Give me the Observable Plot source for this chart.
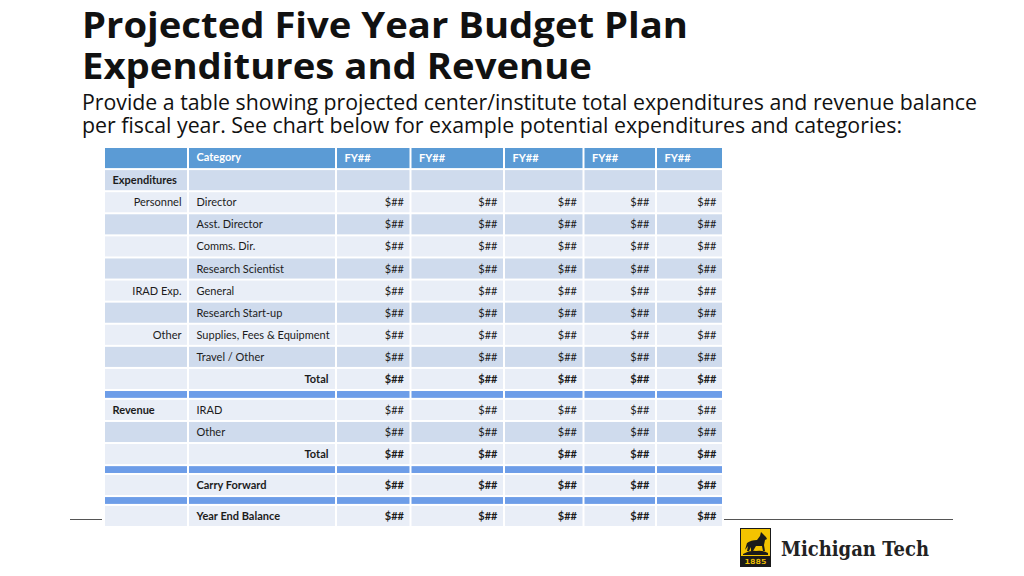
<!DOCTYPE html>
<html>
<head>
<meta charset="utf-8">
<script src="https://cdn.jsdelivr.net/npm/d3@7"></script>
<script src="https://cdn.jsdelivr.net/npm/@observablehq/plot@0.6"></script>
<style>
  html, body { margin: 0; padding: 0; background: #ffffff; }
  body { width: 1024px; height: 576px; position: relative; overflow: hidden; }
  #decor { position: absolute; left: 0; top: 0; }
  #chart { position: absolute; left: 0; top: 145px; }
</style>
</head>
<body>
<svg id="decor" width="1024" height="576" xmlns="http://www.w3.org/2000/svg">
  <g font-family="'Open Sans', sans-serif" fill="#111">
    <text x="82" y="38" font-size="35" font-weight="700" textLength="606" lengthAdjust="spacingAndGlyphs">Projected Five Year Budget Plan</text>
    <text x="82" y="79" font-size="35" font-weight="700" textLength="510" lengthAdjust="spacingAndGlyphs">Expenditures and Revenue</text>
    <text x="82" y="110" font-size="21" font-weight="400" textLength="895" lengthAdjust="spacingAndGlyphs">Provide a table showing projected center/institute total expenditures and revenue balance</text>
    <text x="82" y="133" font-size="21" font-weight="400" textLength="820" lengthAdjust="spacingAndGlyphs">per fiscal year. See chart below for example potential expenditures and categories:</text>
  </g>
  <line x1="70" y1="519.5" x2="102" y2="519.5" stroke="#555" stroke-width="1"/>
  <line x1="724" y1="519.5" x2="953" y2="519.5" stroke="#555" stroke-width="1"/>
  <g transform="translate(740,528)">
    <rect x="0.5" y="0.5" width="30" height="38" fill="#f3c300" stroke="#1a1a1a" stroke-width="1"/>
    <path d="M3,26 Q10,22 16,23 Q23,22 28,25 L28,27 L3,27 Z" fill="#1a1a1a"/>
    <path d="M5,22 L7,15 Q11,12 17,12 L20,8 L21,4 L23,6 L26,9 L27,11 L25,12 L24,17 L25,23 L23,23 L22,18 L16,18 L13,23 L11,23 L11,19 L9,23 L7,23 L8,18 Z" fill="#1a1a1a"/>
    <rect x="1" y="28" width="29" height="10" fill="#1a1a1a"/>
    <text x="15.5" y="36" font-family="'DejaVu Sans Mono', monospace" font-size="7" font-weight="700" fill="#f3c300" text-anchor="middle" textLength="22" lengthAdjust="spacingAndGlyphs">1885</text>
  </g>
  <text x="781" y="556" font-family="'DejaVu Serif', serif" font-size="20" font-weight="700" fill="#222" textLength="148" lengthAdjust="spacingAndGlyphs">Michigan Tech</text>
</svg>
<div id="chart"></div>
<script>
// ---- data ----
const fiscalYears = ["FY##", "FY##", "FY##", "FY##", "FY##"];
const rowKinds = ["header", "section", "item", "item", "item", "item", "item", "item", "item", "item", "total", "band", "section", "item", "total", "band", "summary", "band", "summary"];
const rowGroups = ["", "Expenditures", "Personnel", "", "", "", "IRAD Exp.", "", "Other", "", "", "", "Revenue", "", "", "", "", "", ""];
const rowCategories = ["Category", "", "Director", "Asst. Director", "Comms. Dir.", "Research Scientist", "General", "Research Start-up", "Supplies, Fees & Equipment", "Travel / Other", "Total", "", "IRAD", "Other", "Total", "", "Carry Forward", "", "Year End Balance"];
const V = "$##";
const rowAmounts = [
  fiscalYears,
  [],
  [V, V, V, V, V],
  [V, V, V, V, V],
  [V, V, V, V, V],
  [V, V, V, V, V],
  [V, V, V, V, V],
  [V, V, V, V, V],
  [V, V, V, V, V],
  [V, V, V, V, V],
  [V, V, V, V, V],
  [],
  [V, V, V, V, V],
  [V, V, V, V, V],
  [V, V, V, V, V],
  [],
  [V, V, V, V, V],
  [],
  [V, V, V, V, V]
];

// ---- layout (table geometry) ----
const colWidths = [84, 148, 74.5, 93.5, 79.5, 72.5, 67];
const colLeft = d3.cumsum([0, ...colWidths]).slice(0, colWidths.length);
const totalW = d3.sum(colWidths);
const rowHeights = rowKinds.map(k => k === "band" ? 0.4 : 1);
const rowTop = d3.cumsum([0, ...rowHeights]).slice(0, rowKinds.length);
const totalH = d3.sum(rowHeights);

const HEADER = "#5b9bd5", BAND = "#6d9de8", DARK = "#cfdbed", LIGHT = "#e9eef7";
const INK = "#1c1c1c";

const cells = [];
rowKinds.forEach((kind, r) => {
  let fill = kind === "header" ? HEADER : kind === "band" ? BAND : (r % 2 === 1 ? DARK : LIGHT);
  colWidths.forEach((w, c) => {
    cells.push({x1: colLeft[c], x2: colLeft[c] + w, y1: rowTop[r], y2: rowTop[r] + rowHeights[r], fill});
  });
});

const texts = [];
rowKinds.forEach((kind, r) => {
  if (kind === "band") return;
  const yc = rowTop[r] + rowHeights[r] / 2;
  if (rowGroups[r]) {
    if (kind === "section") texts.push({t: rowGroups[r], x: colLeft[0] + 8, y: yc, style: "boldLeft"});
    else texts.push({t: rowGroups[r], x: colLeft[1] - 7, y: yc, style: "right"});
  }
  if (rowCategories[r]) {
    if (kind === "header") texts.push({t: rowCategories[r], x: colLeft[1] + 8, y: yc - 0.05, style: "headLeft"});
    else if (kind === "total") texts.push({t: rowCategories[r], x: colLeft[2] - 8, y: yc, style: "boldRight"});
    else if (kind === "summary") texts.push({t: rowCategories[r], x: colLeft[1] + 8, y: yc, style: "boldLeft"});
    else texts.push({t: rowCategories[r], x: colLeft[1] + 8, y: yc, style: "left"});
  }
  rowAmounts[r].forEach((v, i) => {
    const c = i + 2;
    if (kind === "header") texts.push({t: v, x: colLeft[c] + 8, y: yc, style: "headLeft"});
    else if (kind === "total" || kind === "summary") texts.push({t: v, x: colLeft[c] + colWidths[c] - 7, y: yc, style: "boldRight"});
    else texts.push({t: v, x: colLeft[c] + colWidths[c] - 7, y: yc, style: "right"});
  });
});

const FONT = "Lato, 'Open Sans', sans-serif";
const FS = 11;
const textMark = (style, opts) => Plot.text(texts.filter(d => d.style === style), {
  x: "x", y: "y", text: "t", fontFamily: FONT, fontSize: FS, ...opts
});

const chart = Plot.plot({
  width: 1024,
  height: 390,
  marginLeft: 104,
  marginRight: 1024 - 104 - totalW,
  marginTop: 2,
  marginBottom: 8,
  x: {domain: [0, totalW], axis: null},
  y: {domain: [0, totalH], axis: null, reverse: true},
  style: {background: "transparent", overflow: "visible"},
  marks: [
    Plot.rect(cells, {x1: "x1", x2: "x2", y1: "y1", y2: "y2", fill: "fill", inset: 1}),
    textMark("headLeft", {textAnchor: "start", fill: "#ffffff", fontWeight: "bold"}),
    textMark("boldLeft", {textAnchor: "start", fill: INK, fontWeight: "bold"}),
    textMark("left", {textAnchor: "start", fill: INK}),
    textMark("right", {textAnchor: "end", fill: INK}),
    textMark("boldRight", {textAnchor: "end", fill: INK, fontWeight: "bold"})
  ]
});
document.getElementById("chart").appendChild(chart);
</script>
</body>
</html>
